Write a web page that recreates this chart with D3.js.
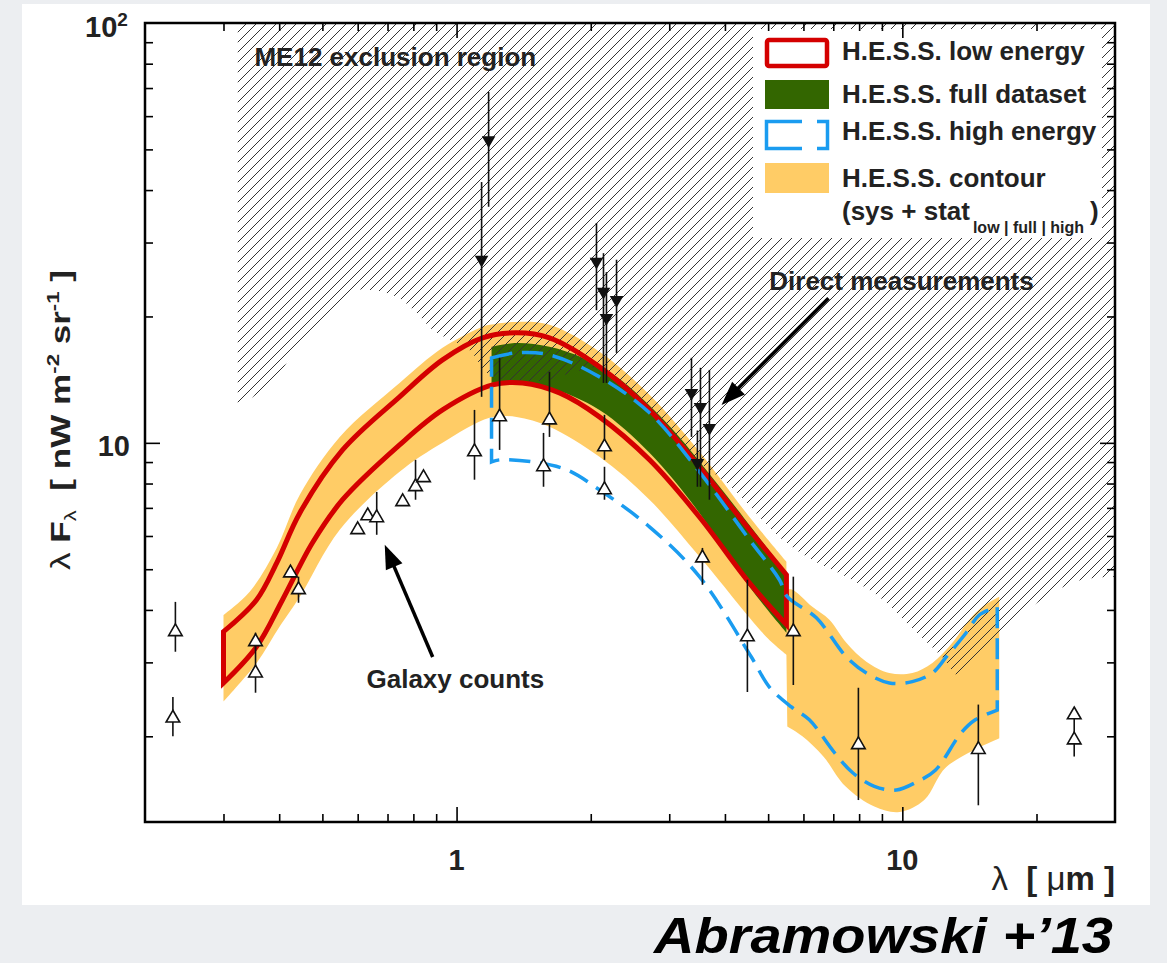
<!DOCTYPE html>
<html>
<head>
<meta charset="utf-8">
<script src="https://cdn.jsdelivr.net/npm/d3@7"></script>
<style>
  body { margin: 0; background: #eceef1; }
  svg { display: block; }
  text { font-family: "Liberation Sans", Arial, Helvetica, sans-serif; white-space: pre; }
</style>
</head>
<body>
<svg id="chart" width="1167" height="963"></svg>
<script>
// values: lambda in micron, lambda*F_lambda in nW m^-2 sr^-1

// H.E.S.S. low energy band
const lowUpper = [[0.300, 3.55], [0.356, 4.23], [0.395, 5.18], [0.445, 6.81], [0.555, 9.62], [0.745, 12.87],
    [0.930, 15.76], [1.144, 17.78], [1.363, 18.28], [1.616, 17.78], [2.092, 15.17], [2.709, 11.98],
    [3.506, 8.77], [4.539, 6.21], [5.495, 4.85]];
const lowLower = [[0.300, 2.68], [0.356, 3.27], [0.407, 4.23], [0.475, 5.78], [0.555, 7.32], [0.745, 9.89],
    [0.930, 11.98], [1.204, 13.74], [1.406, 13.89], [1.702, 13.15], [2.092, 11.53], [2.709, 9.11],
    [3.506, 6.66], [4.539, 4.64], [5.495, 3.69]];

// H.E.S.S. full dataset band
const fullUpper = [[1.198, 16.93], [1.363, 17.30], [1.616, 16.93], [1.917, 15.94], [2.285, 14.36],
    [2.957, 11.16], [3.828, 8.03], [4.955, 5.65], [5.495, 4.90]];
const fullLower = [[1.198, 13.89], [1.363, 13.97], [1.616, 13.52], [2.092, 11.98], [2.709, 9.47],
    [3.506, 6.81], [4.539, 4.54], [5.495, 3.53]];

// H.E.S.S. high energy band
const highUpper = [[1.198, 15.94], [1.363, 16.38], [1.616, 16.20], [2.092, 14.36], [2.709, 11.79],
    [3.506, 8.53], [4.539, 5.88], [5.30, 4.72], [5.52, 4.30], [6.414, 3.83], [7.49, 3.09], [8.305, 2.83],
    [9.35, 2.68], [10.53, 2.70], [11.68, 2.83], [12.55, 3.09], [13.91, 3.53], [14.88, 3.89], [16.33, 4.07]];
const highLower = [[1.198, 9.01], [1.249, 9.11], [1.480, 9.01], [1.765, 8.63], [2.092, 7.73], [2.709, 6.31],
    [3.506, 4.80], [4.585, 3.09], [5.032, 2.62], [5.637, 2.35], [6.186, 2.19], [7.04, 1.83], [7.727, 1.64],
    [8.655, 1.52], [9.694, 1.49], [10.80, 1.56], [11.86, 1.66], [13.56, 2.04], [14.58, 2.19], [16.33, 2.31]];

// H.E.S.S. contour (sys + stat), split where it switches from the low/full bands to the high band
const contourUpperLeft = [[0.300, 3.89], [0.3435, 4.42], [0.395, 5.62], [0.445, 7.52], [0.547, 10.33],
    [0.745, 13.89], [0.930, 16.84], [1.126, 18.78], [1.186, 19.10], [1.363, 19.41], [1.616, 19.10],
    [2.092, 16.47], [2.709, 13.01], [3.506, 9.52], [4.539, 6.66], [5.495, 5.21]];
const contourUpperRight = [[5.495, 4.47], [5.665, 4.47], [6.283, 4.07], [6.861, 3.79], [7.49, 3.34],
    [8.305, 3.01], [9.35, 2.83], [10.53, 2.83], [11.68, 2.99], [12.95, 3.34], [14.13, 3.79], [15.12, 4.07],
    [16.5, 4.30]];
const contourLowerRight = [[5.52, 2.11], [5.968, 2.00], [6.651, 1.79], [7.452, 1.52], [8.655, 1.36],
    [9.85, 1.32], [11.20, 1.41], [12.55, 1.69], [16.5, 1.98]];
const contourLowerLeft = [[0.300, 2.42], [0.356, 2.99], [0.401, 3.65], [0.445, 4.30], [0.547, 6.21],
    [0.745, 8.53], [0.930, 10.0], [1.186, 11.47], [1.363, 11.53], [1.616, 10.92], [2.092, 9.26],
    [2.709, 7.32], [3.506, 5.36], [4.955, 3.45], [5.495, 3.13]];

// ME12 exclusion region: lower edge, right to left (upper edge is the top of the frame)
const me12Edge = [[30, 4.80], [25.3, 4.72], [21.7, 4.39], [16.5, 3.53], [13.42, 2.79], [12.29, 3.09],
    [10.21, 3.73], [8.88, 4.30], [7.49, 4.80], [6.283, 5.26], [5.30, 5.97], [4.16, 7.8], [3.506, 9.01],
    [2.957, 10.92], [2.481, 13.01], [2.092, 15.09], [1.839, 14.76], [1.616, 14.13], [1.384, 14.05],
    [1.186, 14.52], [1.069, 16.65], [0.99, 17.40], [0.884, 18.58], [0.813, 20.40], [0.734, 22.27],
    [0.648, 23.1], [0.584, 22.9], [0.511, 19.95], [0.445, 17.30], [0.401, 14.68], [0.367, 13.37], [0.323, 12.18]];
const me12Left = 0.323;

// galaxy counts (open triangles): [lambda, value, errLow, errHigh]
const galaxyCounts = [[0.234, 3.55, 3.18, 4.18], [0.231, 2.21, 2.00, 2.48], [0.354, 3.36, 3.22, 3.53],
    [0.354, 2.83, 2.54, 3.27], [0.424, 4.90, 4.90, 4.90], [0.442, 4.47, 4.16, 4.80], [0.600, 6.21, 6.21, 6.21],
    [0.632, 6.70, 6.70, 6.70], [0.662, 6.63, 6.04, 7.64], [0.757, 7.24, 7.24, 7.24], [0.809, 7.86, 7.32, 9.11],
    [0.843, 8.26, 8.26, 8.26], [1.097, 9.52, 8.17, 11.98], [1.249, 11.53, 9.62, 15.94],
    [1.567, 8.77, 7.86, 10.56], [1.616, 11.34, 10.33, 14.76], [2.147, 9.78, 9.11, 11.66],
    [2.147, 7.73, 7.32, 8.77], [3.561, 5.32, 4.59, 5.62], [4.492, 3.45, 2.55, 4.72], [5.695, 3.55, 2.65, 4.80],
    [7.97, 1.91, 1.41, 2.61], [14.81, 1.86, 1.37, 2.38], [24.3, 2.25, 2.25, 2.31], [24.3, 1.96, 1.79, 2.31]];

// direct measurements (filled down triangles): [lambda, value, errLow, errHigh]
const directMeas = [[1.18, 52.6, 36.5, 68.5], [1.138, 27.3, 12.87, 41.8], [2.060, 27.0, 20.7, 33.4],
    [2.136, 22.9, 13.89, 28.3], [2.169, 19.85, 13.89, 25.5], [2.285, 21.9, 16.38, 27.3],
    [3.365, 13.15, 10.33, 15.94], [3.525, 12.18, 7.86, 15.09], [3.692, 10.86, 7.32, 14.92],
    [3.47, 8.96, 7.86, 10.7]];

// ticks
const xMinorTicks = [0.3, 0.4, 0.5, 0.6, 0.7, 0.8, 0.9, 2, 3, 4, 5, 6, 7, 8, 9, 20];
const xMajorTicks = [1, 10];
const yMinorTicks = [2, 3, 4, 5, 6, 7, 8, 9, 20, 30, 40, 50, 60, 70, 80, 90];
const yMajorTicks = [10];

const legendLabels = ["H.E.S.S. low energy", "H.E.S.S. full dataset", "H.E.S.S. high energy", "H.E.S.S. contour"];

const RED = "#d40000", GREEN = "#336600", BLUE = "#1a9cf0", ORANGE = "#ffcc66", INK = "#222";

const svg = d3.select("#chart");
const pL = 145, pR = 1115, pT = 23, pB = 822;

const x = d3.scaleLog().domain([0.2, 30]).range([pL, pR]);
const y = d3.scaleLog().domain([1.25, 100]).range([pB, pT]);

// white panel behind the figure
svg.append("rect").attr("x", 22).attr("y", 4).attr("width", 1128).attr("height", 901).attr("fill", "#fff");

const defs = svg.append("defs");
defs.append("clipPath").attr("id", "plotClip")
    .append("rect").attr("x", pL).attr("y", pT).attr("width", pR - pL).attr("height", pB - pT);
defs.append("pattern").attr("id", "hatch").attr("patternUnits", "userSpaceOnUse")
    .attr("width", 10).attr("height", 10)
    .append("path").attr("d", "M-1,1 l2,-2 M0,10 l10,-10 M9,11 l2,-2")
    .attr("stroke", "#333").attr("stroke-width", 1);

const line = d3.line().x(d => x(d[0])).y(d => y(d[1])).curve(d3.curveCatmullRom.alpha(0.5));
const cont = pts => line(pts).replace(/^M/, "L");
function band(upper, lower) {
    return line(upper) + cont(lower.slice().reverse()) + "Z";
}

const plot = svg.append("g").attr("clip-path", "url(#plotClip)");

// contour
plot.append("path")
    .attr("d", line(contourUpperLeft) + cont(contourUpperRight) +
        cont(contourLowerRight.slice().reverse()) + cont(contourLowerLeft.slice().reverse()) + "Z")
    .attr("fill", ORANGE);

// full dataset
plot.append("path").attr("d", band(fullUpper, fullLower)).attr("fill", GREEN);

// exclusion region
plot.append("path")
    .attr("d", `M${x(me12Left)},${y(100)}L${x(30)},${y(100)}` + cont(me12Edge) + "Z")
    .attr("fill", "url(#hatch)");

// low energy
plot.append("path").attr("d", band(lowUpper, lowLower))
    .attr("fill", "none").attr("stroke", RED).attr("stroke-width", 5).attr("stroke-linejoin", "miter");

// high energy
plot.append("path").attr("d", band(highUpper, highLower))
    .attr("fill", "none").attr("stroke", BLUE).attr("stroke-width", 3.5).attr("stroke-dasharray", "21,10");

// error bars
const allPts = galaxyCounts.concat(directMeas);
plot.selectAll(".err").data(allPts).enter().append("line")
    .attr("class", "err")
    .attr("x1", d => x(d[0])).attr("x2", d => x(d[0]))
    .attr("y1", d => y(d[2])).attr("y2", d => y(d[3]))
    .attr("stroke", "#111").attr("stroke-width", 1.6);

const tri = d3.symbol(d3.symbolTriangle, 80);
plot.selectAll(".gc").data(galaxyCounts).enter().append("path")
    .attr("class", "gc")
    .attr("d", tri)
    .attr("transform", d => `translate(${x(d[0])},${y(d[1])})`)
    .attr("fill", "#fff").attr("stroke", "#111").attr("stroke-width", 1.6);
plot.selectAll(".dm").data(directMeas).enter().append("path")
    .attr("class", "dm")
    .attr("d", tri)
    .attr("transform", d => `translate(${x(d[0])},${y(d[1])}) rotate(180)`)
    .attr("fill", "#111");

// annotations
function arrow(from, to) {
    const x1 = x(from[0]), y1 = y(from[1]), x2 = x(to[0]), y2 = y(to[1]);
    const ang = Math.atan2(y2 - y1, x2 - x1), len = 24, hw = 9;
    const bx = x2 - len * Math.cos(ang), by = y2 - len * Math.sin(ang);
    svg.append("line").attr("x1", x1).attr("y1", y1).attr("x2", bx + 4 * Math.cos(ang)).attr("y2", by + 4 * Math.sin(ang))
        .attr("stroke", "#000").attr("stroke-width", 3.5);
    svg.append("path")
        .attr("d", `M${x2},${y2}L${bx - hw * Math.sin(ang)},${by + hw * Math.cos(ang)}L${bx + hw * Math.sin(ang)},${by - hw * Math.cos(ang)}Z`)
        .attr("fill", "#000");
}
arrow([6.83, 22.1], [3.93, 12.31]);
arrow([0.884, 3.09], [0.690, 5.72]);

function label(xv, yv, str, size) {
    return svg.append("text").attr("x", x(xv)).attr("y", y(yv))
        .attr("font-size", size).attr("font-weight", "bold").attr("fill", INK).text(str);
}
label(0.352, 79.0, "ME12 exclusion region", 26);
label(5.03, 23.1, "Direct measurements", 26);
label(0.628, 2.60, "Galaxy counts", 26);

// legend
const lg = svg.append("g");
lg.append("rect").attr("x", 753).attr("y", 29).attr("width", 349).attr("height", 209).attr("fill", "#fff");
const sw = { x: 765, w: 64, h: 30 };
lg.append("rect").attr("x", sw.x + 2).attr("y", 40).attr("width", sw.w - 4).attr("height", 26).attr("rx", 2)
    .attr("fill", "none").attr("stroke", RED).attr("stroke-width", 4.5);
lg.append("rect").attr("x", sw.x).attr("y", 80).attr("width", sw.w).attr("height", 29).attr("fill", GREEN);
lg.append("path")
    .attr("d", `M${sw.x + 37},121.5H${sw.x + 1.5}V148.5H${sw.x + 37}M${sw.x + 52},121.5H${sw.x + sw.w - 1.5}V148.5H${sw.x + 52}`)
    .attr("fill", "none").attr("stroke", BLUE).attr("stroke-width", 3.5);
lg.append("rect").attr("x", sw.x).attr("y", 163).attr("width", sw.w).attr("height", 30).attr("fill", ORANGE);
lg.selectAll(".lt").data(legendLabels).enter().append("text")
    .attr("x", 842).attr("y", (d, i) => [60, 103, 140, 187][i])
    .attr("font-size", 26).attr("font-weight", "bold").attr("fill", INK).text(d => d);
const lt5 = lg.append("text").attr("x", 842).attr("y", 220).attr("font-size", 26).attr("font-weight", "bold").attr("fill", INK);
lt5.append("tspan").text("(sys + stat");
lt5.append("tspan").attr("font-size", 16).attr("dy", 13).attr("dx", 3).text("low | full | high");
lt5.append("tspan").attr("dy", -13).attr("dx", 6).text(")");

// axes: frame + ticks on all four sides
function ticks(axis, tr, size) {
    svg.append("g").attr("transform", tr)
        .call(axis.tickSize(size).tickFormat(""))
        .call(g => g.select(".domain").remove())
        .call(g => g.selectAll("line").attr("stroke", "#000").attr("stroke-width", 1.6));
}
ticks(d3.axisBottom(x).tickValues(xMinorTicks), `translate(0,${pB})`, -8);
ticks(d3.axisBottom(x).tickValues(xMajorTicks), `translate(0,${pB})`, -15);
ticks(d3.axisTop(x).tickValues(xMinorTicks), `translate(0,${pT})`, -8);
ticks(d3.axisTop(x).tickValues(xMajorTicks), `translate(0,${pT})`, -15);
ticks(d3.axisLeft(y).tickValues(yMinorTicks), `translate(${pL},0)`, -8);
ticks(d3.axisLeft(y).tickValues(yMajorTicks), `translate(${pL},0)`, -15);
ticks(d3.axisRight(y).tickValues(yMinorTicks), `translate(${pR},0)`, -8);
ticks(d3.axisRight(y).tickValues(yMajorTicks), `translate(${pR},0)`, -15);
svg.append("rect").attr("x", pL).attr("y", pT).attr("width", pR - pL).attr("height", pB - pT)
    .attr("fill", "none").attr("stroke", "#000").attr("stroke-width", 2.5);

// tick labels
svg.selectAll(".xl").data(xMajorTicks).enter().append("text")
    .attr("x", d => x(d)).attr("y", 870).attr("text-anchor", "middle")
    .attr("font-size", 29).attr("font-weight", "bold").attr("fill", INK).text(d => d);
svg.append("text").attr("x", pL - 15).attr("y", y(10) + 13).attr("text-anchor", "end")
    .attr("font-size", 29).attr("font-weight", "bold").attr("fill", INK).text("10");
const t100 = svg.append("text").attr("x", pL - 60).attr("y", y(100) + 14)
    .attr("font-size", 29).attr("font-weight", "bold").attr("fill", INK);
t100.append("tspan").text("10");
t100.append("tspan").attr("font-size", 19).attr("dy", -11).text("2");

// axis titles
const yt = svg.append("text").attr("transform", "translate(70,420) rotate(-90) scale(1.3,1)")
    .attr("text-anchor", "middle").attr("font-size", 27).attr("font-weight", "bold").attr("fill", INK);
yt.append("tspan").attr("font-weight", "normal").text("λ");
yt.append("tspan").text(" F");
yt.append("tspan").attr("font-size", 17).attr("font-weight", "normal").attr("dy", 6).text("λ");
yt.append("tspan").attr("dy", -6).text("  [ nW m");
yt.append("tspan").attr("font-size", 17).attr("dy", -11).text("-2");
yt.append("tspan").attr("dy", 11).text(" sr");
yt.append("tspan").attr("font-size", 17).attr("dy", -11).text("-1");
yt.append("tspan").attr("dy", 11).text(" ]");

const xt = svg.append("text").attr("x", pR).attr("y", 890).attr("text-anchor", "end")
    .attr("font-size", 33).attr("font-weight", "bold").attr("fill", INK);
xt.append("tspan").attr("font-weight", "normal").text("λ");
xt.append("tspan").text("  [ ");
xt.append("tspan").attr("font-weight", "normal").text("μ");
xt.append("tspan").text("m ]");

// citation
svg.append("text").attr("x", 1113).attr("y", 953).attr("text-anchor", "end")
    .attr("font-family", "'Open Sans', sans-serif").attr("font-style", "italic").attr("font-weight", "bold")
    .attr("font-size", 50).attr("fill", "#000")
    .attr("textLength", 459).attr("lengthAdjust", "spacingAndGlyphs")
    .text("Abramowski +’13");
</script>
</body>
</html>
